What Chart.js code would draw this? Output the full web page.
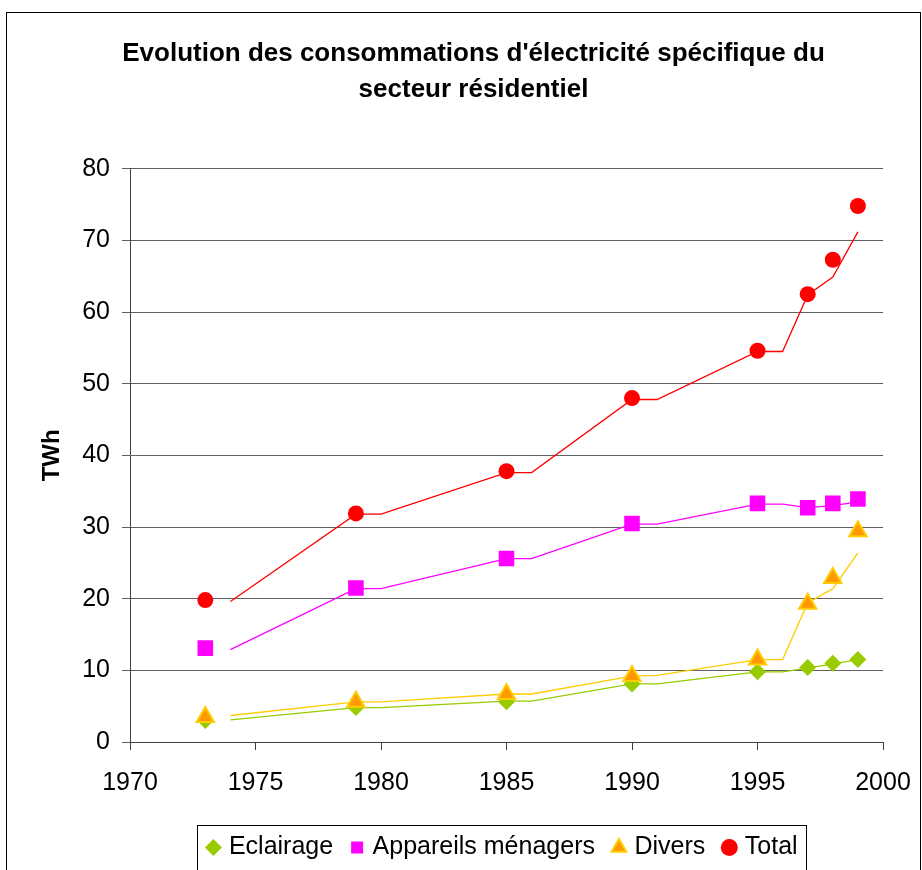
<!DOCTYPE html>
<html>
<head>
<meta charset="utf-8">
<title>Evolution des consommations d'électricité spécifique</title>
<script src="https://cdn.jsdelivr.net/npm/chart.js@4.4.0/dist/chart.umd.min.js"></script>
<style>
    html, body { margin: 0; padding: 0; background: #fff; }
    canvas { display: block; }
</style>
</head>
<body>
<canvas id="chart" width="922" height="870"></canvas>
<script>
// Marker series (survey years)
const years = [1973, 1979, 1985, 1990, 1995, 1997, 1998, 1999];
const eclairage = [3.0, 4.8, 5.6, 8.1, 9.8, 10.4, 11.0, 11.5];
const appareils = [13.1, 21.5, 25.6, 30.5, 33.3, 32.7, 33.3, 33.9];
const divers = [3.5, 5.6, 6.7, 9.2, 11.5, 19.3, 22.9, 29.4];
const total = [19.8, 31.9, 37.8, 48.0, 54.6, 62.5, 67.3, 74.8];

// Connecting lines (drawn as separate series, shifted by one year)
const lineYears = [1974, 1979, 1980, 1985, 1986, 1990, 1991, 1995, 1996, 1997, 1998, 1999];
const eclairageLine = [3.1, 4.8, 4.8, 5.7, 5.7, 8.1, 8.1, 9.8, 9.8, 10.3, 10.9, 11.5];
const appareilsLine = [12.9, 21.4, 21.4, 25.6, 25.6, 30.4, 30.4, 33.2, 33.2, 32.7, 33.0, 33.5];
const diversLine = [3.7, 5.6, 5.6, 6.7, 6.7, 9.2, 9.3, 11.5, 11.5, 19.4, 21.4, 26.4];
const totalLine = [19.6, 31.8, 31.8, 37.6, 37.6, 47.8, 47.8, 54.5, 54.5, 62.4, 64.9, 71.2];

const xTicks = [1970, 1975, 1980, 1985, 1990, 1995, 2000];
const yTicks = [0, 10, 20, 30, 40, 50, 60, 70, 80];

const FONT = "'Liberation Sans', Arial, sans-serif";

const pts = (xs, ys) => xs.map((x, i) => ({ x: x, y: ys[i] }));

// Frame around the whole chart and around the legend
const framePlugin = {
    id: 'frame',
    beforeDraw(chart) {
        const ctx = chart.ctx;
        ctx.save();
        ctx.fillStyle = '#fff';
        ctx.fillRect(0, 0, chart.width, chart.height);
        ctx.strokeStyle = '#000';
        ctx.lineWidth = 1;
        ctx.strokeRect(6.5, 12.5, 914, 880);
        ctx.restore();
    },
    afterLayout(chart) {
        // Excel centres these on slightly different points than Chart.js
        chart.titleBlock.left += 32;
        chart.titleBlock.right += 32;
        chart.legend.left = 90;
        chart.legend.right = 918;
    },
    afterDraw(chart) {
        const boxes = chart.legend.legendHitBoxes;
        if (!boxes || !boxes.length) return;
        const first = boxes[0];
        const last = boxes[boxes.length - 1];
        const cy = first.top + first.height / 2;
        const ctx = chart.ctx;
        ctx.save();
        ctx.strokeStyle = '#000';
        ctx.lineWidth = 1;
        const l = Math.round(first.left - 13) + 0.5;
        const r = Math.round(last.left + last.width + 8) + 0.5;
        const t = Math.round(cy - 23) + 0.5;
        ctx.strokeRect(l, t, r - l, 45);
        ctx.restore();
    }
};

const ctx = document.getElementById('chart').getContext('2d');
new Chart(ctx, {
    type: 'scatter',
    data: {
        datasets: [
            {
                label: 'Eclairage',
                data: pts(years, eclairage),
                pointStyle: 'rectRot',
                pointRadius: 8.5,
                backgroundColor: '#99CC00',
                borderColor: '#99CC00',
                borderWidth: 0,
                order: 4
            },
            {
                label: 'Appareils ménagers',
                data: pts(years, appareils),
                pointStyle: 'rect',
                pointRadius: 11,
                backgroundColor: '#FF00FF',
                borderColor: '#FF00FF',
                borderWidth: 0,
                order: 3
            },
            {
                label: 'Divers',
                data: pts(years, divers),
                pointStyle: 'triangle',
                pointRadius: 10,
                backgroundColor: '#FF9900',
                borderColor: '#FFCC00',
                borderWidth: 2,
                order: 2
            },
            {
                label: 'Total',
                data: pts(years, total),
                pointStyle: 'circle',
                pointRadius: 8,
                backgroundColor: '#FF0000',
                borderColor: '#FF0000',
                borderWidth: 0,
                order: 1
            },
            { label: 'l1', data: pts(lineYears, eclairageLine), showLine: true, pointRadius: 0, borderColor: '#99CC00', borderWidth: 1.3, order: 8 },
            { label: 'l2', data: pts(lineYears, appareilsLine), showLine: true, pointRadius: 0, borderColor: '#FF00FF', borderWidth: 1.3, order: 7 },
            { label: 'l3', data: pts(lineYears, diversLine), showLine: true, pointRadius: 0, borderColor: '#FFCC00', borderWidth: 1.3, order: 6 },
            { label: 'l4', data: pts(lineYears, totalLine), showLine: true, pointRadius: 0, borderColor: '#FF0000', borderWidth: 1.3, order: 5 }
        ]
    },
    options: {
        responsive: false,
        animation: false,
        events: [],
        layout: { padding: { left: 0, right: 39, top: 0, bottom: 0 } },
        plugins: {
            title: {
                display: true,
                text: ["Evolution des consommations d'électricité spécifique du", 'secteur résidentiel'],
                color: '#000',
                font: { family: FONT, size: 26, weight: 'bold', lineHeight: 1.38 },
                padding: { top: 36, bottom: 61 }
            },
            legend: {
                position: 'bottom',
                labels: {
                    color: '#000',
                    font: { family: FONT, size: 25 },
                    usePointStyle: true,
                    boxWidth: 6,
                    boxHeight: 12,
                    padding: 21,
                    filter: item => item.datasetIndex < 4,
                    sort: (a, b) => a.datasetIndex - b.datasetIndex
                }
            },
            tooltip: { enabled: false }
        },
        scales: {
            x: {
                type: 'linear',
                min: xTicks[0],
                max: xTicks[xTicks.length - 1],
                afterBuildTicks: s => { s.ticks = xTicks.map(v => ({ value: v })); },
                afterFit: s => { s.height = 72; s.paddingLeft = 0; s.paddingRight = 0; },
                ticks: {
                    color: '#000',
                    font: { family: FONT, size: 25 },
                    padding: 18,
                    maxRotation: 0,
                    callback: v => String(v)
                },
                grid: { drawOnChartArea: false, drawTicks: true, tickLength: 8, color: '#404040' },
                border: { color: '#404040', width: 1 }
            },
            y: {
                min: yTicks[0],
                max: yTicks[yTicks.length - 1],
                afterBuildTicks: s => { s.ticks = yTicks.map(v => ({ value: v })); },
                afterFit: s => { s.width = 130; },
                ticks: {
                    color: '#000',
                    font: { family: FONT, size: 25 },
                    padding: 12,
                    callback: v => String(v)
                },
                grid: { color: '#606060', lineWidth: 1, tickLength: 8 },
                border: { color: '#404040', width: 1 },
                title: {
                    display: true,
                    text: 'TWh',
                    color: '#000',
                    font: { family: FONT, size: 24, weight: 'bold' },
                    padding: { top: 38 }
                }
            }
        }
    },
    plugins: [framePlugin]
});
</script>
</body>
</html>
